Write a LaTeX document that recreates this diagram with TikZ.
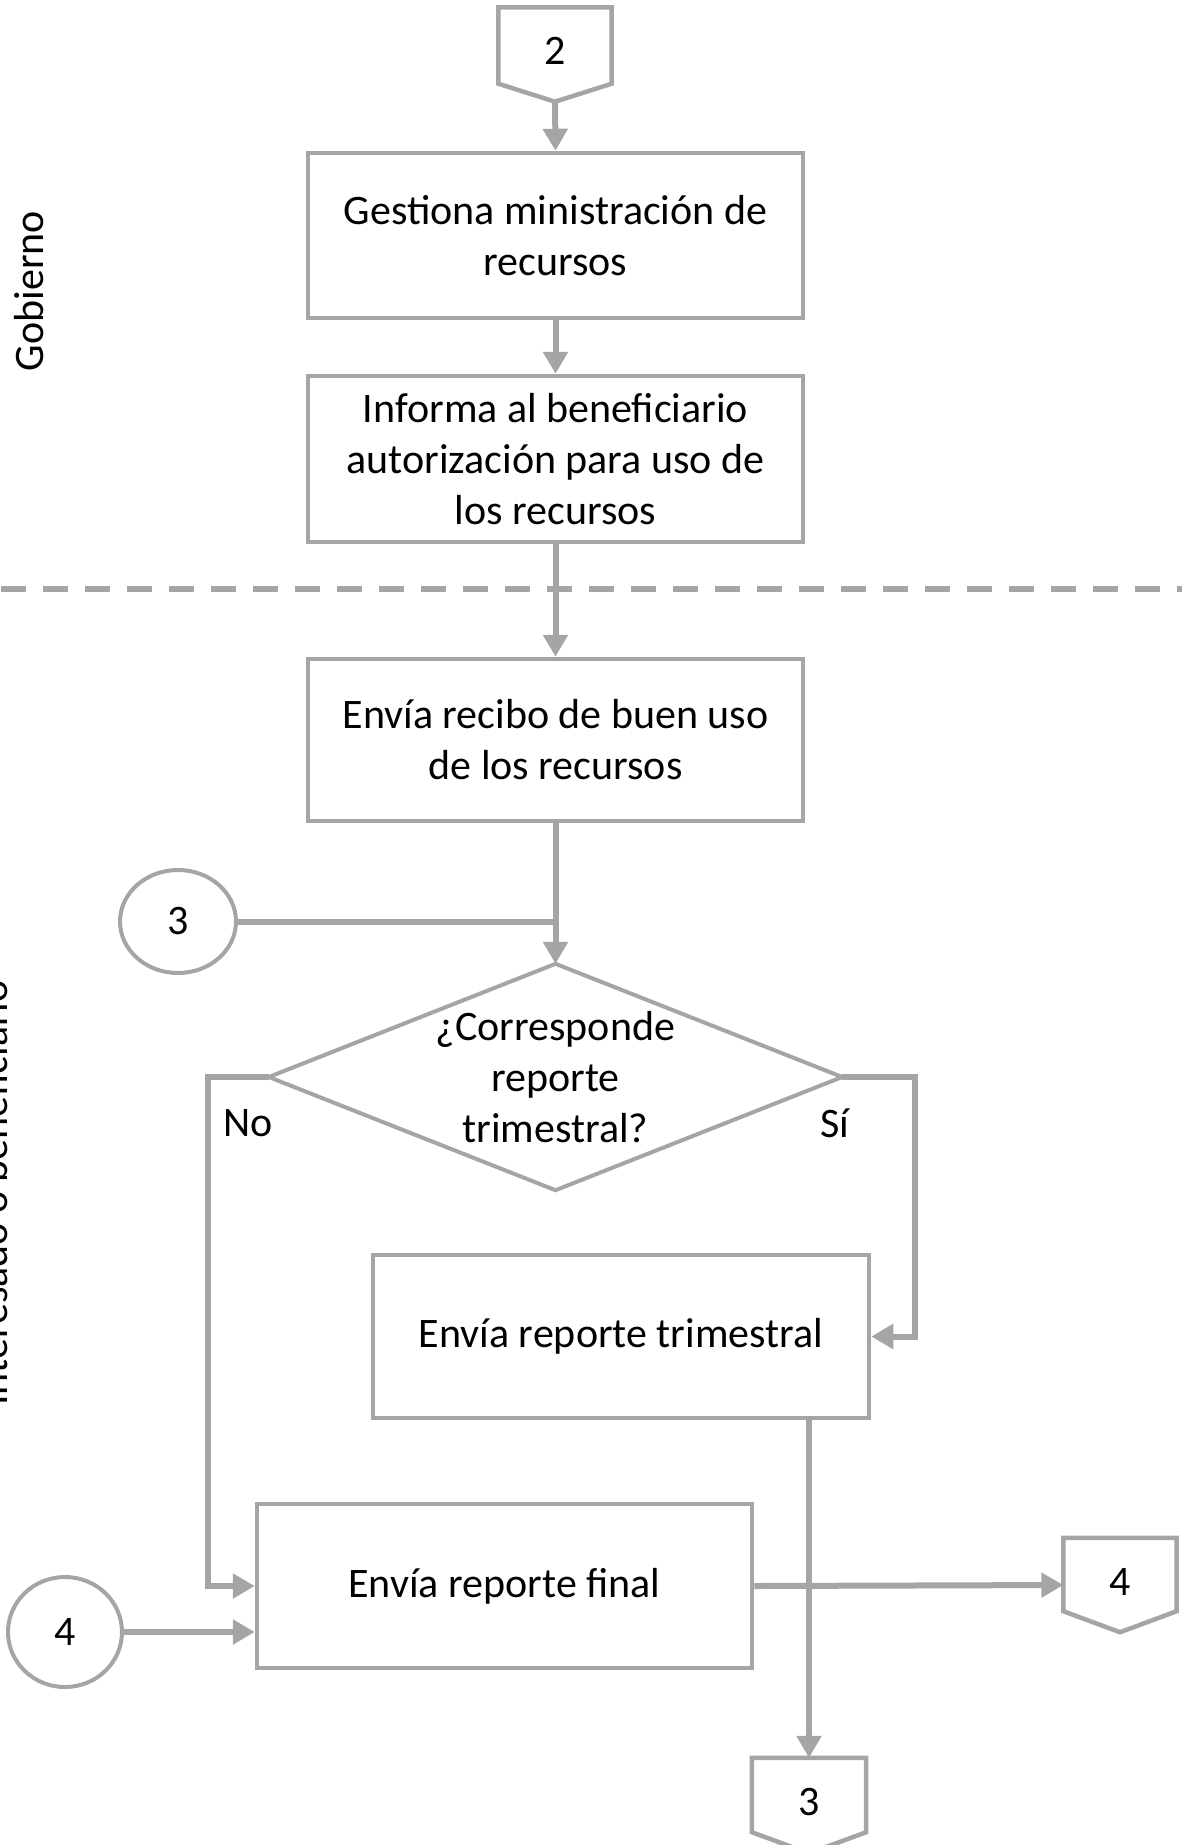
\documentclass[tikz,border=0pt]{standalone}
\usepackage{fontspec}
\setmainfont{Carlito}
\usetikzlibrary{arrows.meta,calc,shapes.geometric}
\definecolor{lg}{HTML}{A5A5A5}
\newcommand{\diagfont}{\fontsize{42}{51}\selectfont}
\begin{document}
\begin{tikzpicture}[x=1pt,y=-1pt,
  every node/.style={font=\diagfont, text=black},
  procbox/.style={draw=lg, line width=4.5pt, minimum width=495pt, align=center, inner sep=0pt},
  offpage/.style={minimum width=113pt, minimum height=94pt, inner sep=0pt},
  offline/.style={draw=lg, line width=4.5pt, line join=miter},
  onpage/.style={draw=lg, line width=4pt, ellipse, inner sep=0pt},
  conn/.style={draw=lg, line width=6pt, line join=miter},
  arr/.style={conn, -{Triangle[length=22pt,width=24pt]}},
  lane/.style={rotate=90, anchor=base},
  lbl/.style={inner sep=0pt}
]
\useasboundingbox (0,0) rectangle (1182,1845);

% lane separator
\draw[draw=lg, line width=6pt, dash pattern=on 25pt off 17pt] (1,589) -- (1182,589);

% lane labels
\node[lane] (laneG) at (43,291) {Gobierno};
\node[lane] (laneI) at (8,1193) {Interesado o beneficiario};

% off-page connector 2
\node[offpage] (c2) at (555,54.5) {\raisebox{8pt}{2}};
\draw[offline] (c2.north west) -- (c2.north east) -- ($(c2.south east)+(0,-18)$) -- (c2.south) -- ($(c2.south west)+(0,-18)$) -- cycle;

% process boxes
\node[procbox, minimum height=165pt] (gest) at (555.5,235.5) {\vphantom{Ag}Gestiona ministración de\\recursos};
\node[procbox, minimum height=166pt] (info) at (555.5,459) {Informa al beneficiario\\autorización para uso de\\los recursos};
\node[procbox, minimum height=162pt] (recibo) at (555.5,740) {Envía recibo de buen uso\\de los recursos};

% on-page connector 3
\node[onpage, minimum width=116pt, minimum height=103pt] (circ3) at (178,921.5) {3};

% decision
\node[minimum width=573pt, minimum height=226pt, inner sep=0pt, align=center] (dec) at (555.5,1077) {¿Corresponde\\reporte\\trimestral?};
\draw[draw=lg, line width=4pt, line join=miter] (dec.north) -- (dec.east) -- (dec.south) -- (dec.west) -- cycle;

\node[lbl] (no) at (248,1123) {No};
\node[lbl] (si) at (835,1123) {Sí};

\node[procbox, minimum width=496pt, minimum height=163pt] (trim) at (621,1336.5) {\raisebox{-5pt}{Envía reporte trimestral}};
\node[procbox, minimum height=164pt] (final) at (504.5,1586) {\raisebox{-5pt}{Envía reporte final}};

% on-page connector 4
\node[onpage, minimum width=114pt, minimum height=110pt] (circ4) at (65,1632) {4};

% off-page connector 4
\node[offpage] (c4) at (1120,1585) {\raisebox{6pt}{4}};
\draw[offline] (c4.north west) -- (c4.north east) -- ($(c4.south east)+(0,-21)$) -- (c4.south) -- ($(c4.south west)+(0,-21)$) -- cycle;

% off-page connector 3
\node[offpage, minimum width=114pt, minimum height=95pt] (c3) at (809,1805.5) {\raisebox{8pt}{3}};
\draw[offline] (c3.north west) -- (c3.north east) -- ($(c3.south east)+(0,-21)$) -- (c3.south) -- ($(c3.south west)+(0,-21)$) -- cycle;

% connectors
\draw[arr] (c2.south) -- (gest.north);
\draw[arr] (gest) -- (info);
\draw[arr] (info) -- (recibo);
\draw[arr] (recibo) -- (dec.north);
\coordinate (join3) at (circ3.east -| recibo.south);
\draw[conn] (circ3.east) -- (join3);
\draw[arr] (dec.west) -- ++(-61,0) |- (final.west);
\draw[arr] (dec.east) -- ++(73,0) |- (trim.east);
\draw[arr] (circ4.east) -- (circ4.east -| final.west);
\draw[arr] (c3.north |- trim.south) -- (c3.north);
\draw[arr] (final.east) -- (c4.west);
\end{tikzpicture}
\end{document}
